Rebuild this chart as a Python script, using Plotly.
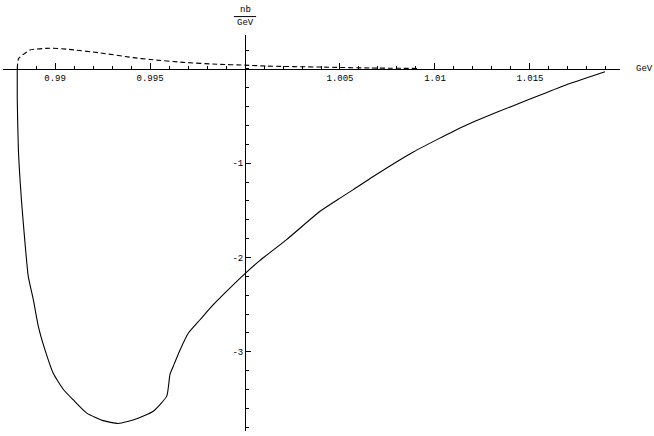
import plotly.graph_objects as go

# solid curve (nb/GeV vs GeV)
solid_x = [0.98801, 0.98801, 0.98807, 0.98823, 0.98842, 0.98859, 0.98886, 0.98912,
           0.98947, 0.98991, 0.99044, 0.99096, 0.99167, 0.99254, 0.99333, 0.99430,
           0.99517, 0.99588, 0.99605, 0.99623, 0.99658, 0.99702, 0.99763, 0.99833,
           0.99912, 1.00000, 1.00079, 1.00219, 1.00395, 1.00500, 1.00570, 1.00675,
           1.00886, 1.01149, 1.01325, 1.01500, 1.01675, 1.01895]
solid_y = [0.0, -0.31, -0.86, -1.39, -1.85, -2.20, -2.45, -2.73,
           -2.98, -3.23, -3.40, -3.51, -3.65, -3.73, -3.76, -3.71,
           -3.63, -3.47, -3.24, -3.15, -2.98, -2.80, -2.66, -2.50,
           -2.34, -2.17, -2.03, -1.81, -1.51, -1.37, -1.28, -1.14,
           -0.88, -0.61, -0.46, -0.32, -0.18, -0.03]

# dashed curve
dash_x = [0.98801, 0.98808, 0.98868, 0.98974, 0.99062, 0.99237, 0.99411, 0.99500,
          0.99674, 0.99853, 1.00000, 1.00116, 1.00395, 1.00658, 1.00905]
dash_y = [0.0, 0.11, 0.20, 0.22, 0.21, 0.17, 0.12, 0.10,
          0.07, 0.05, 0.04, 0.03, 0.02, 0.01, 0.005]

x_ticks = [0.99, 0.995, 1.005, 1.01, 1.015]
x_labels = ["0.99", "0.995", "1.005", "1.01", "1.015"]
y_ticks = [-1, -2, -3]
y_labels = ["-1", "-2", "-3"]

X_RANGE = [0.98726, 1.01974]
Y_RANGE = [-3.84, 0.36]
X_CROSS = 1.0

FONT = dict(family="Liberation Mono, DejaVu Sans Mono, monospace", size=9, color="black")

fig = go.Figure()
fig.add_trace(go.Scatter(x=solid_x, y=solid_y, mode="lines",
                         line=dict(color="black", width=1.1, shape="spline", smoothing=0.5),
                         showlegend=False))
fig.add_trace(go.Scatter(x=dash_x, y=dash_y, mode="lines",
                         line=dict(color="black", width=1.1, dash="5px,3px",
                                   shape="spline", smoothing=0.5),
                         showlegend=False))

x_pos = (0 - Y_RANGE[0]) / (Y_RANGE[1] - Y_RANGE[0])
y_pos = (X_CROSS - X_RANGE[0]) / (X_RANGE[1] - X_RANGE[0])

fig.update_layout(
    width=654, height=436,
    margin=dict(l=3, r=34, t=35, b=5, autoexpand=False),
    paper_bgcolor="white", plot_bgcolor="white",
    font=FONT,
    xaxis=dict(range=X_RANGE, anchor="free", position=x_pos, showgrid=False, zeroline=False,
               showline=True, linecolor="black", linewidth=1,
               tickmode="array", tickvals=x_ticks, ticktext=x_labels,
               ticks="inside", ticklen=6, tickwidth=1, tickcolor="black",
               minor=dict(ticks="inside", dtick=0.001, tick0=0.99, ticklen=3,
                          tickcolor="black", tickwidth=1),
               tickfont=FONT, automargin=False),
    yaxis=dict(range=Y_RANGE, anchor="free", position=y_pos, showgrid=False, zeroline=False,
               showline=True, linecolor="black", linewidth=1,
               tickmode="array", tickvals=y_ticks, ticktext=y_labels,
               ticks="inside", ticklen=5, tickwidth=1, tickcolor="black",
               minor=dict(ticks="inside", dtick=0.2, tick0=0, ticklen=3,
                          tickcolor="black", tickwidth=1),
               tickfont=FONT, automargin=False),
)

# axis labels
fig.add_annotation(x=1.0405, y=x_pos, xref="paper", yref="paper", text="GeV",
                   showarrow=False, font=FONT, xanchor="center", yanchor="middle")
fig.add_annotation(x=y_pos, y=1.0, xref="paper", yref="paper", text="nb",
                   showarrow=False, font=FONT, yshift=25, yanchor="middle")
fig.add_annotation(x=y_pos, y=1.0, xref="paper", yref="paper", text="GeV",
                   showarrow=False, font=FONT, yshift=12, yanchor="middle")
fig.add_shape(type="line", xref="paper", yref="paper",
              x0=y_pos - 0.018, x1=y_pos + 0.018, y0=1.0465, y1=1.0465,
              line=dict(color="black", width=1))

fig.write_html("out.html", config={"displayModeBar": False},
               post_script="document.body.style.margin='0';")
